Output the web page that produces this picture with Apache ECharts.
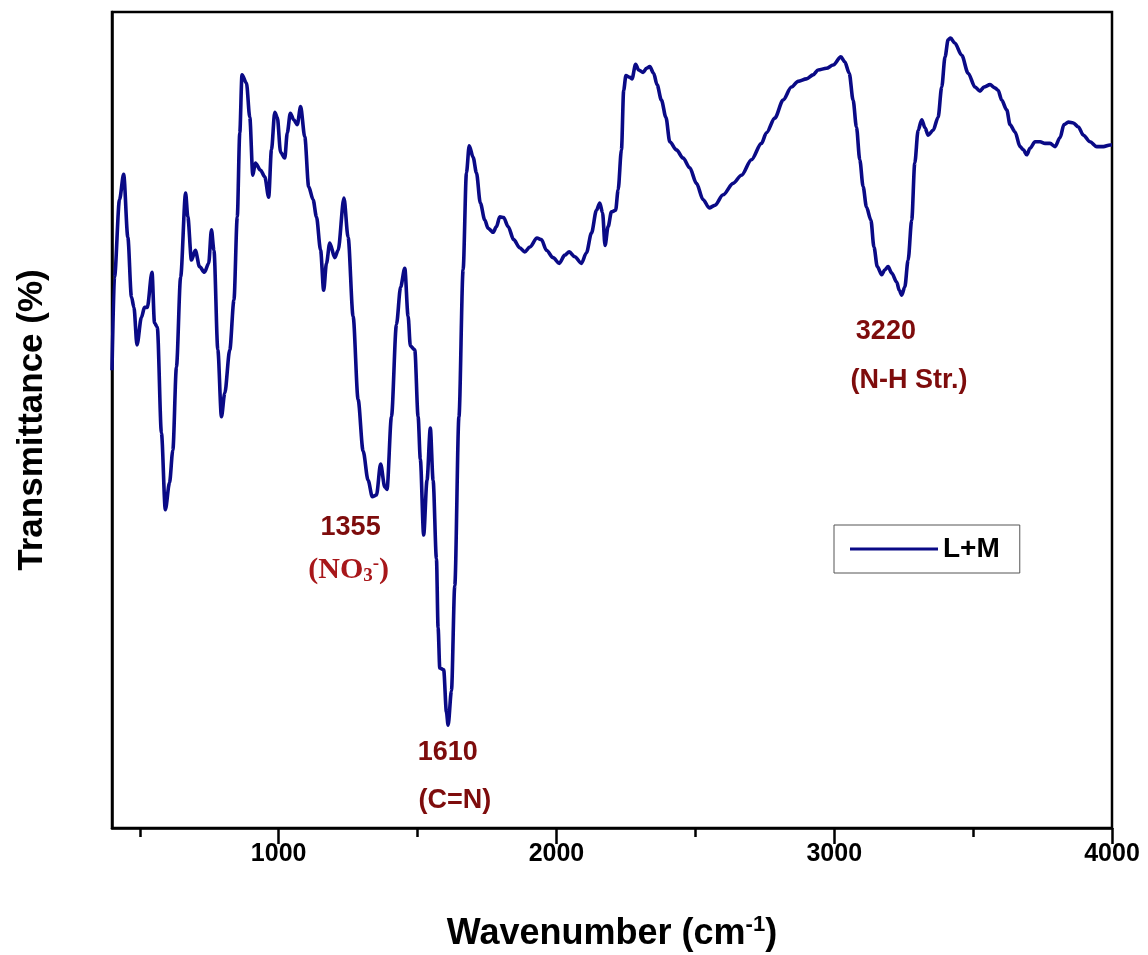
<!DOCTYPE html>
<html>
<head>
<meta charset="utf-8">
<script src="https://cdn.jsdelivr.net/npm/echarts@6/dist/echarts.min.js"></script>
<style>
html,body{margin:0;padding:0;background:#fff;}
#chart{width:1148px;height:955px;}
</style>
</head>
<body>
<div id="chart"></div>
<script>
// Wavenumber (cm-1)
const wavenumber = [400,409,427,442,457,470,479,490,506,517,527,544,553,563,578,592,607,619,632,647,665,673,686,700,715,733,748,758,767,781,794,806,824,839,851,860,868,884,896,907,916,935,950,964,974,986,995,1007,1022,1031,1042,1054,1067,1079,1094,1108,1124,1136,1151,1162,1172,1184,1202,1214,1235,1250,1268,1286,1304,1322,1337,1352,1367,1382,1390,1406,1424,1439,1454,1466,1474,1490,1502,1510,1522,1534,1546,1556,1568,1574,1580,1594,1604,1610,1622,1634,1649,1664,1676,1686,1700,1712,1726,1742,1754,1772,1784,1796,1810,1826,1846,1868,1886,1904,1930,1946,1964,1988,2010,2030,2046,2066,2090,2108,2126,2144,2156,2166,2175,2186,2198,2213,2222,2234,2242,2250,2264,2272,2285,2296,2312,2324,2336,2350,2362,2378,2394,2408,2432,2456,2480,2504,2528,2550,2570,2600,2636,2666,2702,2738,2756,2786,2816,2846,2870,2900,2924,2942,2972,2996,3024,3038,3054,3068,3080,3092,3104,3116,3132,3143,3155,3171,3182,3194,3207,3225,3234,3243,3254,3266,3279,3290,3302,3315,3327,3338,3356,3374,3387,3399,3410,3419,3434,3459,3482,3507,3525,3539,3561,3578,3590,3603,3621,3633,3651,3669,3681,3693,3705,3723,3741,3759,3777,3795,3813,3827,3843,3861,3879,3897,3921,3945,3969,3993,4000];
// Transmittance (%), relative
const transmittance = [56.1,67.5,77.0,80.1,72.4,65.1,63.8,59.2,62.6,63.8,63.8,68.1,61.9,61.4,48.4,39.0,42.3,46.3,56.5,67.5,77.8,74.9,69.6,70.8,68.8,68.1,69.2,73.3,70.8,58.6,50.4,53.3,58.6,64.7,74.9,85.2,92.3,91.3,87.1,80.0,81.5,80.6,79.8,77.3,83.1,87.7,87.1,82.8,82.1,85.2,87.6,86.8,86.2,88.4,84.7,78.6,77.0,74.9,70.8,65.9,69.2,71.7,69.9,70.8,77.2,72.4,62.7,52.5,46.2,42.6,40.6,40.8,44.6,41.8,41.5,50.4,61.7,66.3,68.6,62.7,59.1,58.6,50.4,45.2,35.9,42.6,49.0,42.6,33.0,24.5,19.6,19.4,14.2,12.6,16.8,29.7,50.4,68.4,80.3,83.6,82.2,80.3,76.6,74.5,73.5,73.0,73.7,74.9,74.8,73.7,72.1,71.1,70.6,71.2,72.3,72.1,70.8,69.9,69.2,70.2,70.6,70.0,69.2,70.5,72.9,75.7,76.6,75.4,71.4,73.7,75.5,75.7,78.2,83.1,90.4,92.2,92.0,91.8,93.6,92.9,92.6,93.1,93.3,92.5,91.1,89.2,87.1,84.1,83.1,82.1,80.9,79.0,77.0,76.0,76.3,77.6,79.0,80.0,81.9,83.9,85.2,87.0,89.2,90.8,91.5,91.8,92.3,92.9,93.1,93.5,94.5,93.9,92.5,89.2,85.9,81.9,78.6,76.1,74.5,71.2,68.8,67.8,68.4,68.8,68.0,66.9,65.9,65.3,66.3,69.6,74.5,81.5,85.5,86.8,85.8,84.9,85.5,87.1,90.8,94.5,96.6,96.8,96.2,94.7,92.5,90.8,90.3,90.8,91.1,90.7,90.4,89.2,88.0,86.2,85.3,83.5,83.1,82.5,83.3,84.1,84.1,83.9,83.9,83.5,84.6,86.2,86.5,86.4,85.9,84.9,84.1,83.5,83.5,83.7,83.7];

const majorTicks = [1000, 2000, 3000, 4000];
const minorTicks = [500, 1500, 2500, 3500];
const seriesName = 'L+M';

// Annotation text positions (data coords) and text
const annotX = [1259, 1252, 1609, 1634, 3186, 3269];
const annotY = [36.8, 31.6, 9.3, 3.4, 60.8, 54.8];
const annotText = ['{n|1355}', '{r|(NO}{sub|3}{sup|-}{r|)}', '{n|1610}', '{n|(C=N)}', '{n|3220}', '{n|(N-H Str.)}'];

const series = wavenumber.map((w, i) => [w, transmittance[i]]);
const annotData = annotX.map((x, i) => ({ value: [x, annotY[i]], text: annotText[i] }));

const chart = echarts.init(document.getElementById('chart'), null, { renderer: 'canvas' });
const FONT = 'Liberation Sans, Arial, sans-serif';
const SERIF = 'Liberation Serif, Times New Roman, serif';
const option = {
  backgroundColor: '#fff',
  animation: false,
  grid: { left: 112, right: 36, top: 12, bottom: 127, outerBoundsMode: 'none', containLabel: false, show: true, borderColor: '#000', borderWidth: 2.5, backgroundColor: 'transparent' },
  legend: {
    data: [seriesName],
    left: 834, top: 525,
    orient: 'vertical',
    itemWidth: 88, itemHeight: 14, itemGap: 0,
    padding: [10, 20, 10, 16],
    borderColor: '#555', borderWidth: 1,
    textStyle: { fontFamily: FONT, fontWeight: 'bold', fontSize: 28, color: '#000' },
    icon: 'path://M0,5.5 L88,5.5 L88,8.5 L0,8.5 Z'
  },
  xAxis: [{
    type: 'value', min: 400, max: 4000, position: 'bottom',
    axisLine: { show: true, lineStyle: { color: '#000', width: 2.5 } },
    axisTick: { show: true, inside: false, length: 16, customValues: majorTicks, lineStyle: { color: '#000', width: 2.5 } },
    axisLabel: { show: true, customValues: majorTicks, margin: 14, formatter: v => String(v), fontFamily: FONT, fontWeight: 'bold', fontSize: 25, color: '#000' },
    splitLine: { show: false },
    name: '{a|Wavenumber (cm}{s|-1}{a|)}',
    nameLocation: 'middle', nameGap: 86,
    nameTextStyle: { rich: {
      a: { fontFamily: FONT, fontWeight: 'bold', fontSize: 36, color: '#000', lineHeight: 40 },
      s: { fontFamily: FONT, fontWeight: 'bold', fontSize: 22, color: '#000', verticalAlign: 'top', lineHeight: 40, padding: [0,0,16,0] }
    } }
  }, {
    type: 'value', min: 400, max: 4000, position: 'bottom',
    axisLine: { show: false },
    axisTick: { show: true, length: 9, customValues: minorTicks, lineStyle: { color: '#000', width: 2.5 } },
    axisLabel: { show: false },
    splitLine: { show: false }
  }],
  yAxis: {
    type: 'value', min: 0, max: 100,
    axisLine: { show: true, lineStyle: { color: '#000', width: 2.5 } },
    axisTick: { show: false }, axisLabel: { show: false }, splitLine: { show: false },
    name: 'Transmittance (%)', nameLocation: 'middle', nameGap: 62,
    nameTextStyle: { fontFamily: FONT, fontWeight: 'bold', fontSize: 35, color: '#000' }
  },
  series: [{
    name: seriesName, type: 'line', data: series,
    showSymbol: false, symbol: 'none', smooth: 0.3, smoothMonotone: 'x',
    lineStyle: { color: '#0a0a86', width: 3.6 }, itemStyle: { color: '#0a0a86' },
    clip: true
  }, {
    type: 'scatter', data: annotData, symbolSize: 0, silent: true,
    itemStyle: { opacity: 1 },
    label: {
      show: true, position: 'inside', opacity: 1,
      formatter: p => p.data.text,
      rich: {
        n: { fontFamily: FONT, fontWeight: 'bold', fontSize: 27, color: '#7e0c0c', opacity: 1 },
        r: { fontFamily: SERIF, fontWeight: 'bold', fontSize: 30, color: '#a8171a', opacity: 1 },
        sub: { fontFamily: SERIF, fontWeight: 'bold', fontSize: 19, color: '#a8171a', verticalAlign: 'bottom', padding: [8,0,0,0] },
        sup: { fontFamily: SERIF, fontWeight: 'bold', fontSize: 19, color: '#a8171a', verticalAlign: 'top', padding: [0,0,12,0] }
      }
    }
  }]
};
chart.setOption(option);
</script>
</body>
</html>
